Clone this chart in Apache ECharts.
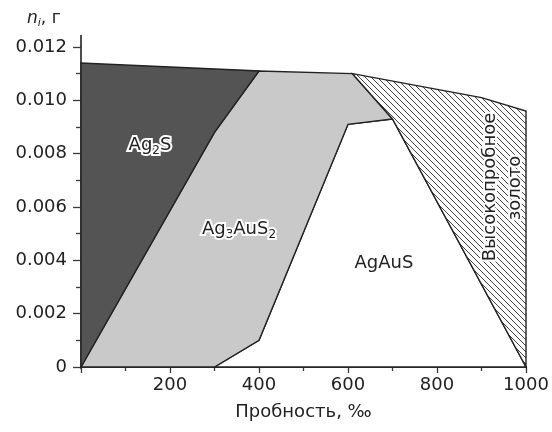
<!DOCTYPE html>
<html>
<head>
<meta charset="utf-8">
<script src="https://cdn.jsdelivr.net/npm/echarts@6/dist/echarts.min.js"></script>
<style>
  html, body { margin: 0; padding: 0; background: #fff; }
  #chart { width: 552px; height: 432px; }
</style>
</head>
<body>
<div id="chart"></div>
<script>
// x ticks, per-mille fineness
var xTicks = [0, 200, 400, 600, 800, 1000];
var yTicks = [0, 0.002, 0.004, 0.006, 0.008, 0.010, 0.012];

// Ag2S field (dark)
var ag2sX = [0, 0, 400, 300];
var ag2sY = [0, 0.0114, 0.0111, 0.0088];
// Ag3AuS2 field (light grey)
var ag3X = [0, 300, 400, 610, 700, 600, 400, 300];
var ag3Y = [0, 0.0088, 0.0111, 0.0110, 0.0093, 0.0091, 0.0010, 0];
// AgAuS field (white)
var agausX = [300, 400, 600, 700, 1000];
var agausY = [0, 0.0010, 0.0091, 0.0093, 0];
// high-fineness gold (hatched)
var goldX = [610, 900, 1000, 1000, 700];
var goldY = [0.0110, 0.0101, 0.0096, 0, 0.0093];

var FONT = 'DejaVu Sans, sans-serif';
var INK = '#222';
var AXIS = '#3a3a3a';

function hatchPattern() {
    var c = document.createElement('canvas');
    c.width = 6;
    c.height = 6;
    var ctx = c.getContext('2d');
    ctx.fillStyle = '#fff';
    ctx.fillRect(0, 0, 6, 6);
    ctx.strokeStyle = '#444';
    ctx.lineWidth = 1;
    ctx.beginPath();
    ctx.moveTo(-1, -1); ctx.lineTo(7, 7);
    ctx.moveTo(-1, 5); ctx.lineTo(1, 7);
    ctx.moveTo(5, -1); ctx.lineTo(7, 1);
    ctx.stroke();
    return c;
}

function polygonSeries(xs, ys, fill, z) {
    return {
        type: 'custom',
        coordinateSystem: 'cartesian2d',
        silent: true,
        z: z,
        data: xs.map(function (x, i) { return [x, ys[i]]; }),
        encode: { x: 0, y: 1 },
        renderItem: function (params, api) {
            if (params.dataIndex !== 0) return null;
            var pts = xs.map(function (x, i) { return api.coord([x, ys[i]]); });
            return {
                type: 'polygon',
                shape: { points: pts },
                style: { fill: fill, stroke: INK, lineWidth: 1.4, lineJoin: 'miter' }
            };
        }
    };
}

function fieldLabel(x, y, text) {
    return {
        type: 'text',
        x: x, y: y,
        z: 100,
        style: {
            text: text,
            align: 'center',
            verticalAlign: 'middle',
            rich: {
                b: { fontSize: 18, fontFamily: FONT, fill: INK, stroke: '#fff', lineWidth: 4 },
                s: { fontSize: 12, fontFamily: FONT, fill: INK, stroke: '#fff', lineWidth: 4, padding: [12, 0, 0, 0] }
            }
        }
    };
}

function rotatedLabel(x, y, text) {
    return {
        type: 'text', x: x, y: y, rotation: Math.PI / 2, z: 100,
        style: {
            text: text, align: 'center', verticalAlign: 'middle',
            font: '18px ' + FONT, fill: INK, stroke: '#fff', lineWidth: 4
        }
    };
}

var chart = echarts.init(document.getElementById('chart'));
chart.setOption({
    animation: false,
    grid: { left: 81, right: 26, top: 47, bottom: 65 },
    xAxis: {
        type: 'value',
        min: xTicks[0],
        max: xTicks[xTicks.length - 1],
        interval: 200,
        name: 'Пробность, ‰',
        nameLocation: 'middle',
        nameGap: 36,
        nameTextStyle: { fontSize: 18, color: INK, fontFamily: FONT },
        axisLine: { lineStyle: { color: AXIS, width: 1.8 } },
        axisTick: { length: 6, lineStyle: { color: AXIS, width: 1.3 } },
        minorTick: { show: true, splitNumber: 2, length: 4, lineStyle: { color: AXIS, width: 1.3 } },
        axisLabel: {
            showMinLabel: false, margin: 9, fontSize: 18, color: INK, fontFamily: FONT,
            formatter: function (v) { return String(v); }
        },
        splitLine: { show: false }
    },
    yAxis: {
        type: 'value',
        min: yTicks[0],
        max: yTicks[yTicks.length - 1],
        interval: 0.002,
        axisLine: { show: true, lineStyle: { color: AXIS, width: 1.8 } },
        axisTick: { show: true, length: 8, lineStyle: { color: AXIS, width: 1.3 } },
        minorTick: { show: true, splitNumber: 2, length: 5, lineStyle: { color: AXIS, width: 1.3 } },
        axisLabel: {
            margin: 14, fontSize: 18, color: INK, fontFamily: FONT,
            formatter: function (v) { return v === 0 ? '0' : v.toFixed(3); }
        },
        splitLine: { show: false }
    },
    graphic: [
        { type: 'line', shape: { x1: 81, y1: 35, x2: 81, y2: 47 }, style: { stroke: AXIS, lineWidth: 1.8 } },
        {
            type: 'text', x: 27, y: 8,
            style: {
                text: '{i|n}{si|i}{r|, г}',
                rich: {
                    i: { fontSize: 17, fontStyle: 'italic', fontFamily: FONT, fill: INK },
                    si: { fontSize: 11, fontStyle: 'italic', fontFamily: FONT, fill: INK, padding: [10, 0, 0, 0] },
                    r: { fontSize: 17, fontFamily: FONT, fill: INK }
                }
            }
        },
        fieldLabel(150, 145, '{b|Ag}{s|2}{b|S}'),
        fieldLabel(239, 229, '{b|Ag}{s|3}{b|AuS}{s|2}'),
        fieldLabel(384, 263, '{b|AgAuS}'),
        rotatedLabel(490, 187, 'Высокопробное'),
        rotatedLabel(515, 188, 'золото')
    ],
    series: [
        polygonSeries(agausX, agausY, '#fff', 2),
        polygonSeries(ag3X, ag3Y, '#c9c9c9', 3),
        polygonSeries(ag2sX, ag2sY, '#545454', 4),
        polygonSeries(goldX, goldY, { image: hatchPattern(), repeat: 'repeat' }, 5)
    ]
});
</script>
</body>
</html>
